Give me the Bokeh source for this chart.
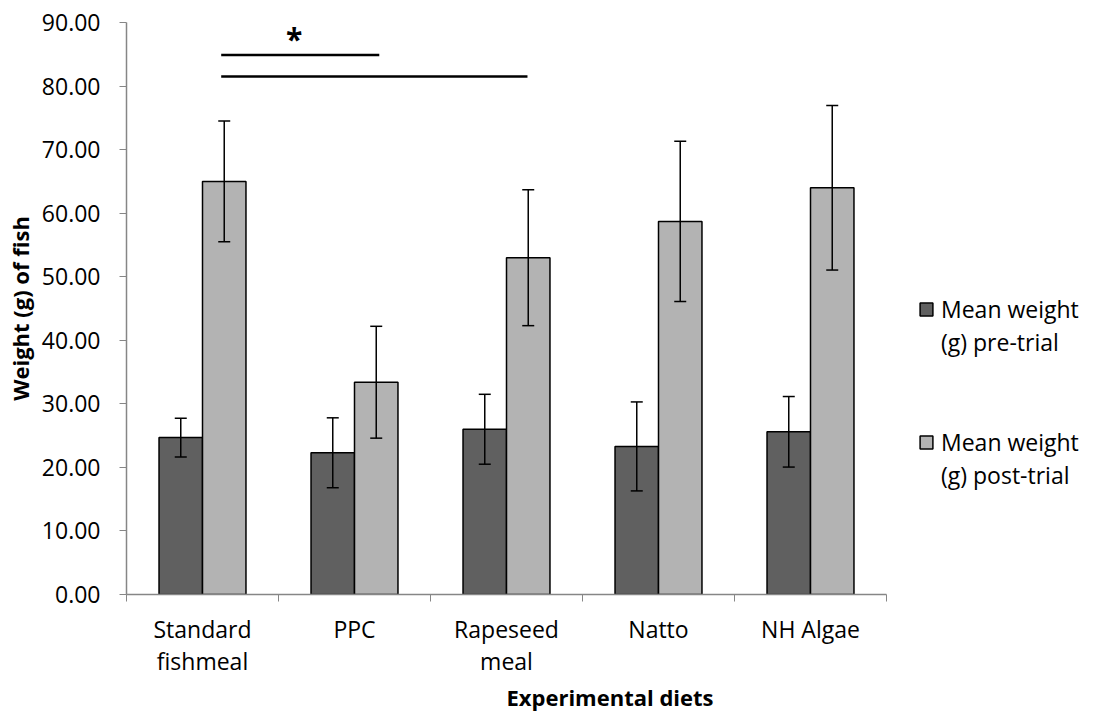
from bokeh.plotting import figure
from bokeh.models import (ColumnDataSource, FixedTicker, NumeralTickFormatter, Whisker, TeeHead,
                          Legend, LegendItem, Range1d, Label)
from bokeh.embed import file_html
from bokeh.resources import INLINE

categories = ["Standard\nfishmeal", "PPC", "Rapeseed\nmeal", "Natto", "NH Algae"]
pre_mean = [24.7, 22.3, 26.0, 23.3, 25.6]
pre_err = [3.05, 5.5, 5.5, 7.0, 5.55]
post_mean = [65.0, 33.4, 53.0, 58.7, 64.0]
post_err = [9.5, 8.8, 10.7, 12.6, 12.95]
series_line1 = ["Mean weight", "Mean weight"]
series_line2 = ["(g) pre-trial", "(g) post-trial"]
y_ticks = [0, 10, 20, 30, 40, 50, 60, 70, 80, 90]
# significance brackets: (from category, to category, height)
sig_from = [0, 0]
sig_to = [1, 2]
sig_y = [84.9, 81.5]
sig_label = "*"

FONT = "Open Sans"
W, H = 1093, 714
LEFT, TOP, BOTTOM = 126, 22, 120
AXIS_PX = 760  # pixel length of the category axis
n = len(categories)
bw = 0.286
centers = [i + 0.5 for i in range(n)]
x_pre = [c - bw / 2 for c in centers]
x_post = [c + bw / 2 for c in centers]
x_end = n * (W - LEFT) / AXIS_PX

src_pre = ColumnDataSource(dict(x=x_pre, top=pre_mean,
                                upper=[m + e for m, e in zip(pre_mean, pre_err)],
                                lower=[m - e for m, e in zip(pre_mean, pre_err)]))
src_post = ColumnDataSource(dict(x=x_post, top=post_mean,
                                 upper=[m + e for m, e in zip(post_mean, post_err)],
                                 lower=[m - e for m, e in zip(post_mean, post_err)]))

p = figure(width=W, height=H, output_backend="svg", toolbar_location=None,
           x_range=Range1d(0, x_end), y_range=Range1d(0, 90),
           min_border_left=LEFT, min_border_right=0, min_border_top=TOP, min_border_bottom=BOTTOM)
p.outline_line_color = None
p.xgrid.visible = False
p.ygrid.visible = False
p.background_fill_color = "white"
p.border_fill_color = "white"

r1 = p.vbar(x="x", top="top", width=bw, source=src_pre, fill_color="#606060",
            line_color="black", line_width=1.5)
r2 = p.vbar(x="x", top="top", width=bw, source=src_post, fill_color="#b3b3b3",
            line_color="black", line_width=1.5)
r_blank = p.vbar(x=[], top=[], width=bw, fill_alpha=0, line_alpha=0)

for src in (src_pre, src_post):
    w = Whisker(base="x", upper="upper", lower="lower", source=src, level="overlay",
                line_color="black", line_width=1.5,
                upper_head=TeeHead(size=12, line_width=1.5, line_color="black"),
                lower_head=TeeHead(size=12, line_width=1.5, line_color="black"))
    p.add_layout(w)

# significance lines
sig_end_adj = [0.02, -0.005]
sx0 = [x_post[a] - 0.02 for a in sig_from]
sx1 = [x_post[b] + d for b, d in zip(sig_to, sig_end_adj)]
p.segment(x0=sx0, y0=sig_y, x1=sx1, y1=sig_y, line_color="black", line_width=2.5)
p.add_layout(Label(x=(sx0[0] + sx1[0]) / 2 - 0.04, y=sig_y[0] + 1.0, text=sig_label,
                   text_font=FONT, text_font_size="30px", text_font_style="bold",
                   text_color="black",
                   text_align="center", text_baseline="bottom", y_offset=-10))

# axes
xa = p.xaxis[0]
xa.bounds = (0, n)
xa.ticker = FixedTicker(ticks=centers, minor_ticks=list(range(n + 1)))
xa.major_label_overrides = {c: lab for c, lab in zip(centers, categories)}
xa.major_tick_line_color = None
xa.minor_tick_line_color = "#868686"
xa.minor_tick_out = 7
xa.minor_tick_in = 0
xa.axis_line_color = "#868686"
xa.axis_line_width = 1.5
xa.major_label_text_font = FONT
xa.major_label_text_font_size = "23px"
xa.major_label_text_line_height = 1.0
xa.major_label_text_color = "black"
xa.major_label_standoff = 11
xa.axis_label = "Experimental diets"
xa.axis_label_text_font = FONT
xa.axis_label_text_font_style = "bold"
xa.axis_label_text_font_size = "22px"
xa.axis_label_text_color = "black"
xa.axis_label_standoff = 2

ya = p.yaxis[0]
ya.ticker = FixedTicker(ticks=y_ticks, minor_ticks=[])
ya.formatter = NumeralTickFormatter(format="0.00")
ya.major_tick_line_color = "#868686"
ya.major_tick_out = 7
ya.major_tick_in = 0
ya.axis_line_color = "#868686"
ya.axis_line_width = 1.5
ya.major_label_text_font = FONT
ya.major_label_text_font_size = "23px"
ya.major_label_text_color = "black"
ya.major_label_standoff = 19
ya.axis_label = "Weight (g) of fish"
ya.axis_label_text_font = FONT
ya.axis_label_text_font_style = "bold"
ya.axis_label_text_font_size = "22px"
ya.axis_label_text_color = "black"
ya.axis_label_standoff = 4

for rend, l1, l2, ly in ((r1, series_line1[0], series_line2[0], 236),
                          (r2, series_line1[1], series_line2[1], 103)):
    lg = Legend(items=[LegendItem(label=l1, renderers=[rend]),
                       LegendItem(label=l2, renderers=[r_blank])],
                location=(792, ly), orientation="vertical",
                label_text_font=FONT, label_text_font_size="23px", label_text_color="black",
                glyph_width=16, glyph_height=16, spacing=1,
                border_line_color=None, background_fill_alpha=0,
                label_standoff=7, padding=0, margin=0)
    p.add_layout(lg)

open("out.html", "w").write(file_html(p, INLINE))
